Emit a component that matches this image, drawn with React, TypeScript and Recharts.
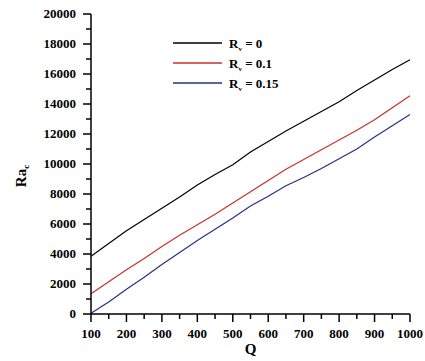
import { LineChart, Line, XAxis, YAxis } from 'recharts';

const qValues = [100, 150, 200, 250, 300, 350, 400, 450, 500, 550, 600, 650, 700, 750, 800, 850, 900, 950, 1000];
const rv0 = [3850, 4700, 5550, 6300, 7050, 7800, 8600, 9300, 9950, 10800, 11500, 12200, 12850, 13500, 14150, 14900, 15600, 16300, 16950];
const rv01 = [1350, 2150, 2950, 3700, 4500, 5250, 5950, 6650, 7400, 8150, 8900, 9650, 10300, 10950, 11600, 12250, 12950, 13750, 14550];
const rv015 = [50, 800, 1650, 2450, 3300, 4100, 4900, 5650, 6400, 7200, 7850, 8550, 9100, 9700, 10350, 11000, 11800, 12550, 13300];

const xTicks = qValues;
const yTicks = [0, 1000, 2000, 3000, 4000, 5000, 6000, 7000, 8000, 9000, 10000, 11000, 12000, 13000, 14000, 15000, 16000, 17000, 18000, 19000, 20000];

const seriesNames = ['0', '0.1', '0.15'];
const seriesColors = ['#000000', '#c8302c', '#25308a'];

const data = qValues.map((q, i) => ({ q, a: rv0[i], b: rv01[i], c: rv015[i] }));

const FONT = '"Liberation Serif", "Times New Roman", serif';

function XTick({ x, y, payload }: any) {
    const major = payload.value % 100 === 0;
    return (
        <g>
            <line x1={x} y1={y} x2={x} y2={y + (major ? 8 : 5)} stroke="#000" strokeWidth={1.5} />
            {major && (
                <text x={x} y={y + 24} textAnchor="middle" fontFamily={FONT} fontWeight="bold" fontSize={13} fill="#000">
                    {payload.value}
                </text>
            )}
        </g>
    );
}

function YTick({ x, y, payload }: any) {
    const major = payload.value % 2000 === 0;
    return (
        <g>
            <line x1={x} y1={y} x2={x - (major ? 8 : 5)} y2={y} stroke="#000" strokeWidth={1.5} />
            {major && (
                <text x={x - 15} y={y + 4} textAnchor="end" fontFamily={FONT} fontWeight="bold" fontSize={13} fill="#000">
                    {payload.value}
                </text>
            )}
        </g>
    );
}

function YLabel() {
    return (
        <text x={26} y={176} transform="rotate(-90 26 176)" textAnchor="middle" fontFamily={FONT} fontWeight="bold" fontSize={15} fill="#000">
            Ra<tspan fontSize={9} dy={3}>c</tspan>
        </text>
    );
}

function LegendBox() {
    return (
        <svg width={110} height={60} style={{ position: 'absolute', left: 173, top: 35 }}>
            {seriesNames.map((name, i) => (
                <g key={name}>
                    <line x1={0} y1={8 + i * 20} x2={49} y2={8 + i * 20} stroke={seriesColors[i]} strokeWidth={1.3} />
                    <text x={56} y={13 + i * 20} fontFamily={FONT} fontWeight="bold" fontSize={13} fill="#000">
                        R<tspan fontSize={7} dy={3}>v</tspan>
                        <tspan dy={-3}>{' = ' + name}</tspan>
                    </text>
                </g>
            ))}
        </svg>
    );
}

export default function App() {
    return (
        <div style={{ position: 'absolute', left: 0, top: 0, width: 425, height: 361, background: '#fff' }}>
            <LineChart width={425} height={361} data={data} margin={{ top: 14, right: 15, bottom: 0, left: 0 }}>
                <XAxis
                    dataKey="q"
                    type="number"
                    domain={[100, 1000]}
                    ticks={xTicks}
                    interval={0}
                    height={47}
                    tickSize={0}
                    tickMargin={0}
                    tickLine={false}
                    tick={<XTick />}
                    axisLine={{ stroke: '#000', strokeWidth: 1.5 }}
                    label={{ value: 'Q', position: 'insideBottom', offset: 7, fontFamily: FONT, fontWeight: 'bold', fontSize: 15, fill: '#000' }}
                />
                <XAxis xAxisId="top" orientation="top" dataKey="q" type="number" domain={[100, 1000]} height={0} tick={false} tickLine={false} axisLine={{ stroke: '#000', strokeWidth: 1.5 }} />
                <YAxis
                    type="number"
                    domain={[0, 20000]}
                    ticks={yTicks}
                    interval={0}
                    width={91}
                    tickSize={0}
                    tickMargin={0}
                    tickLine={false}
                    tick={<YTick />}
                    axisLine={{ stroke: '#000', strokeWidth: 1.5 }}
                    label={<YLabel />}
                />
                <YAxis yAxisId="right" orientation="right" domain={[0, 20000]} width={0} tick={false} tickLine={false} axisLine={{ stroke: '#000', strokeWidth: 1.5 }} />
                <Line dataKey="a" stroke={seriesColors[0]} strokeWidth={1.2} dot={false} isAnimationActive={false} type="linear" />
                <Line dataKey="b" stroke={seriesColors[1]} strokeWidth={1.2} dot={false} isAnimationActive={false} type="linear" />
                <Line dataKey="c" stroke={seriesColors[2]} strokeWidth={1.2} dot={false} isAnimationActive={false} type="linear" />
            </LineChart>
            <LegendBox />
        </div>
    );
}
